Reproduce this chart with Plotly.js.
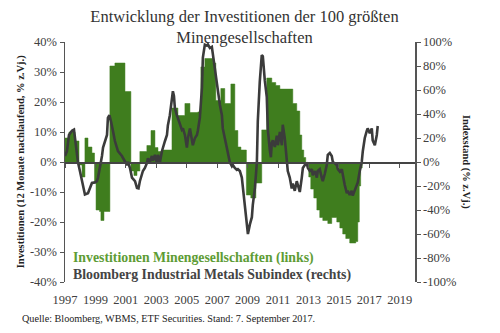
<!DOCTYPE html>
<html>
<head>
<meta charset="utf-8">
<script src="https://cdn.plot.ly/plotly-3.0.1.min.js"></script>
<style>
  html, body { margin: 0; padding: 0; background: #fff; }
  #chart { width: 500px; height: 333px; }
</style>
</head>
<body>
<div id="chart"></div>
<script>
// Investitionen Minengesellschaften (12 Monate nachlaufend, % z.Vj.) – step series, left axis
const investYears = [
  1997.00, 1997.26, 1997.66, 1997.92, 1998.12, 1998.31, 1998.51, 1998.77, 1998.94, 1999.04,
  1999.27, 1999.36, 1999.56, 1999.95, 2000.28, 2000.94, 2001.33, 2001.53, 2001.73, 2001.92,
  2002.38, 2002.65, 2002.91, 2003.11, 2003.43, 2004.03, 2004.42, 2004.88, 2005.21, 2005.73,
  2005.93, 2006.19, 2006.72, 2006.91, 2007.24, 2007.50, 2007.90, 2008.16, 2008.36, 2008.56,
  2008.92, 2009.21, 2009.54, 2009.93, 2010.26, 2010.59, 2010.85, 2011.12, 2011.97, 2012.23,
  2012.43, 2012.56, 2012.69, 2012.82, 2013.02, 2013.15, 2013.35, 2013.55, 2013.74, 2013.94,
  2014.27, 2014.53, 2014.86, 2015.06, 2015.25, 2015.45, 2015.71, 2016.11, 2016.24, 2016.34,
  2016.43, 2016.53
];
const investValues = [
  8, 10, 7, -1, -5, 8, 5, 3, -7, -16,
  -16.5, -19.5, -16.5, 32, 33, 23.5, -3, -4.5, -3, 3.5,
  5.5, 10.5, 4.8, 3.5, 4, 18, 15.5, 19.5, 16.5, 16.7,
  31.7, 34.5, 33, 20.5, 24.5, 19.5, 26, 10.5, 5, 4,
  -11, -12, -7, 10.7, 28, 26.5, 25.5, 24.3, 19.5, 17,
  9, 4, 1.5, -1, -5, -9, -12, -16, -18.5, -19.5,
  -20.5, -18.5, -20, -22, -24, -25.5, -27, -26.5, -20, -8,
  -2, 0
];

// Bloomberg Industrial Metals Subindex (% z.Vj.) – right axis
const metalsYears = [
  1997.00, 1997.13, 1997.26, 1997.46, 1997.59, 1997.72, 1997.85, 1997.98, 1998.12, 1998.18,
  1998.31, 1998.51, 1998.64, 1998.77, 1998.97, 1999.10, 1999.17, 1999.30, 1999.43, 1999.50,
  1999.63, 1999.76, 1999.82, 1999.92, 2000.02, 2000.09, 2000.15, 2000.28, 2000.41, 2000.48,
  2000.74, 2000.94, 2001.07, 2001.14, 2001.27, 2001.40, 2001.60, 2001.73, 2001.83, 2001.92,
  2002.06, 2002.12, 2002.25, 2002.38, 2002.45, 2002.58, 2002.71, 2002.78, 2002.91, 2003.04,
  2003.11, 2003.24, 2003.37, 2003.43, 2003.57, 2003.70, 2003.76, 2003.89, 2004.03, 2004.09,
  2004.16, 2004.22, 2004.35, 2004.42, 2004.55, 2004.68, 2004.75, 2004.88, 2005.01, 2005.08,
  2005.21, 2005.34, 2005.40, 2005.54, 2005.67, 2005.73, 2005.86, 2006.00, 2006.06, 2006.19,
  2006.32, 2006.39, 2006.52, 2006.65, 2006.72, 2006.85, 2006.98, 2007.05, 2007.18, 2007.31,
  2007.37, 2007.50, 2007.64, 2007.70, 2007.83, 2007.97, 2008.03, 2008.16, 2008.29, 2008.36,
  2008.49, 2008.62, 2008.69, 2008.82, 2008.95, 2009.02, 2009.15, 2009.28, 2009.34, 2009.48,
  2009.61, 2009.67, 2009.80, 2009.93, 2010.00, 2010.06, 2010.13, 2010.26, 2010.33, 2010.46,
  2010.53, 2010.59, 2010.66, 2010.79, 2010.92, 2010.99, 2011.12, 2011.25, 2011.31, 2011.44,
  2011.58, 2011.64, 2011.77, 2011.90, 2011.97, 2012.10, 2012.23, 2012.30, 2012.43, 2012.56,
  2012.63, 2012.76, 2012.89, 2012.96, 2013.09, 2013.22, 2013.28, 2013.42, 2013.55, 2013.61,
  2013.74, 2013.87, 2013.94, 2014.07, 2014.20, 2014.27, 2014.40, 2014.53, 2014.60, 2014.73,
  2014.86, 2014.93, 2015.06, 2015.19, 2015.25, 2015.38, 2015.52, 2015.58, 2015.71, 2015.84,
  2015.91, 2016.04, 2016.17, 2016.24, 2016.37, 2016.50, 2016.57, 2016.70, 2016.83, 2016.89,
  2017.03, 2017.16, 2017.22, 2017.36, 2017.49, 2017.55
];
const metalsValues = [
  5, 9, 22.5, 26, 27, 14, 0, -7.5, -16, -19,
  -27, -26, -21.6, -17.5, -17, -16, -13, -5, 5, 12,
  17.5, 22.5, 36.7, 39, 34, 28, 26, 17.5, 12, 9,
  5, 0, -2.5, 0, -5, -13, -16, -21.6, -22, -16,
  -11, -7.5, -5, -1, 3, 0, 5, 1, 6, -1,
  6, 0, 9, 12, 17.5, 22.5, 30.5, 39, 55, 59,
  55, 45, 39, 36.7, 31, 27, 28, 22.5, 12, 20,
  28, 20, 14, 20, 22.5, 26, 36.7, 62, 87, 97.8,
  97, 98, 95, 96, 89, 78, 67, 56, 47.5, 39,
  28, 20, 12, 6, 0, -3.5, -2.5, -5, -6.5, -6,
  -7.5, -13, -21.6, -35.6, -52, -60, -52, -46, -36, -21.6,
  0, 34, 67, 89, 88, 77, 68, 54, 27, 10,
  4, 16, 18, 12.5, 22, 14, 25, 14, 31, 20,
  2, -7.5, -13, -22, -18, -24, -16, -19, -25, -13,
  -5, -2.5, -1.5, -5, -7.5, -6, -11, -7.5, -13, -7.5,
  -6, -13, -16, -10, -2.5, 6, 7.5, 5, 0, -1,
  -2.5, -6, -8, -6, -11, -19, -26, -24, -27.5, -24,
  -28, -24, -19, -17, -7.5, 0, 9, 20, 26, 28,
  24, 28, 18, 14, 22.5, 30
];

const yearTicks = [1997, 1999, 2001, 2003, 2005, 2007, 2009, 2011, 2013, 2015, 2017, 2019];
const yearLabels = ['1997', '1999', '2001', '2003', '2005', '2007', '2009', '2011', '2013', '2015', '2017', '2019'];
const leftTicks = [-40, -30, -20, -10, 0, 10, 20, 30, 40];
const leftLabels = ['-40%', '-30%', '-20%', '-10%', '0%', '10%', '20%', '30%', '40%'];
const rightTicks = [-100, -80, -60, -40, -20, 0, 20, 40, 60, 80, 100];
const rightLabels = ['-100%', '-80%', '-60%', '-40%', '-20%', '0%', '20%', '40%', '60%', '80%', '100%'];

const GREEN = '#3f7d1e';
const LEGEND_GREEN = '#5e9c35';
const DARK = '#3b3b3b';
const AXIS = '#555555';
const TICKFONT = { family: 'Liberation Serif, serif', size: 12.5, color: '#404040' };

const traces = [
  {
    x: investYears, y: investValues,
    type: 'scatter', mode: 'lines',
    line: { shape: 'hv', color: GREEN, width: 0.5 },
    fill: 'tozeroy', fillcolor: GREEN,
    xaxis: 'x', yaxis: 'y',
    name: 'Investitionen Minengesellschaften (links)',
    hoverinfo: 'skip', showlegend: false
  },
  {
    x: metalsYears, y: metalsValues,
    type: 'scatter', mode: 'lines',
    line: { color: DARK, width: 2.6 },
    xaxis: 'x2', yaxis: 'y2',
    name: 'Bloomberg Industrial Metals Subindex (rechts)',
    hoverinfo: 'skip', showlegend: false
  }
];

const layout = {
  width: 500, height: 333,
  margin: { l: 65, r: 85, t: 42, b: 51 },
  paper_bgcolor: '#ffffff', plot_bgcolor: '#ffffff',
  showlegend: false,
  title: {
    text: 'Entwicklung der Investitionen der 100 größten<br>Minengesellschaften',
    font: { family: 'Liberation Serif, serif', size: 16.5, color: '#333333' },
    x: 0.489, xanchor: 'center', xref: 'container',
    y: 0.934, yanchor: 'top', yref: 'container'
  },
  xaxis: {
    range: [1997, 2020], anchor: 'free', position: 0.5,
    tickvals: yearTicks, ticktext: yearLabels, showticklabels: false,
    ticks: 'outside', ticklen: 4, tickwidth: 1, tickcolor: AXIS,
    showline: true, linecolor: '#444444', linewidth: 1.5,
    showgrid: false, zeroline: false
  },
  xaxis2: {
    range: [1997, 2020], overlaying: 'x', anchor: 'y', side: 'bottom',
    tickvals: yearTicks, ticktext: yearLabels, tickfont: TICKFONT,
    ticks: '', ticklabelstandoff: 8,
    showline: false, showgrid: false, zeroline: false
  },
  yaxis: {
    range: [-40, 40], tickvals: leftTicks, ticktext: leftLabels, tickfont: TICKFONT,
    ticks: 'outside', ticklen: 4, tickwidth: 1, tickcolor: AXIS,
    showline: true, linecolor: AXIS, linewidth: 1.5,
    showgrid: false, zeroline: false
  },
  yaxis2: {
    range: [-100, 100], overlaying: 'y', side: 'right', anchor: 'x',
    tickvals: rightTicks, ticktext: rightLabels, tickfont: TICKFONT,
    ticks: 'outside', ticklen: 4, tickwidth: 1, tickcolor: AXIS,
    showline: true, linecolor: AXIS, linewidth: 1.5,
    showgrid: false, zeroline: false
  },
  annotations: [
    {
      text: 'Investitionen (12 Monate nachlaufend, % z.Vj.)',
      xref: 'paper', yref: 'paper', x: -0.125, y: 0.5,
      xanchor: 'center', yanchor: 'middle', textangle: -90, showarrow: false,
      font: { family: 'Liberation Serif, serif', size: 10.5, color: '#222222', weight: 'bold' }
    },
    {
      text: 'Indexstand (% z.Vj.)',
      xref: 'paper', yref: 'paper', x: 1.146, y: 0.5,
      xanchor: 'center', yanchor: 'middle', textangle: 90, showarrow: false,
      font: { family: 'Liberation Serif, serif', size: 10.5, color: '#222222', weight: 'bold' }
    },
    {
      text: 'Investitionen Minengesellschaften (links)',
      xref: 'paper', yref: 'paper', x: 0.016, y: 0.1, xanchor: 'left', yanchor: 'middle',
      showarrow: false,
      font: { family: 'Liberation Serif, serif', size: 13.8, color: LEGEND_GREEN, weight: 'bold' }
    },
    {
      text: 'Bloomberg Industrial Metals Subindex (rechts)',
      xref: 'paper', yref: 'paper', x: 0.016, y: 0.029, xanchor: 'left', yanchor: 'middle',
      showarrow: false,
      font: { family: 'Liberation Serif, serif', size: 13.8, color: '#444444', weight: 'bold' }
    },
    {
      text: 'Quelle: Bloomberg, WBMS, ETF Securities. Stand: 7. September 2017.',
      xref: 'paper', yref: 'paper', x: -0.13, y: -0.15, xanchor: 'left', yanchor: 'middle',
      showarrow: false,
      font: { family: 'Liberation Serif, serif', size: 10.2, color: '#222222' }
    }
  ]
};

Plotly.newPlot('chart', traces, layout, { staticPlot: true, displayModeBar: false });
</script>
</body>
</html>
